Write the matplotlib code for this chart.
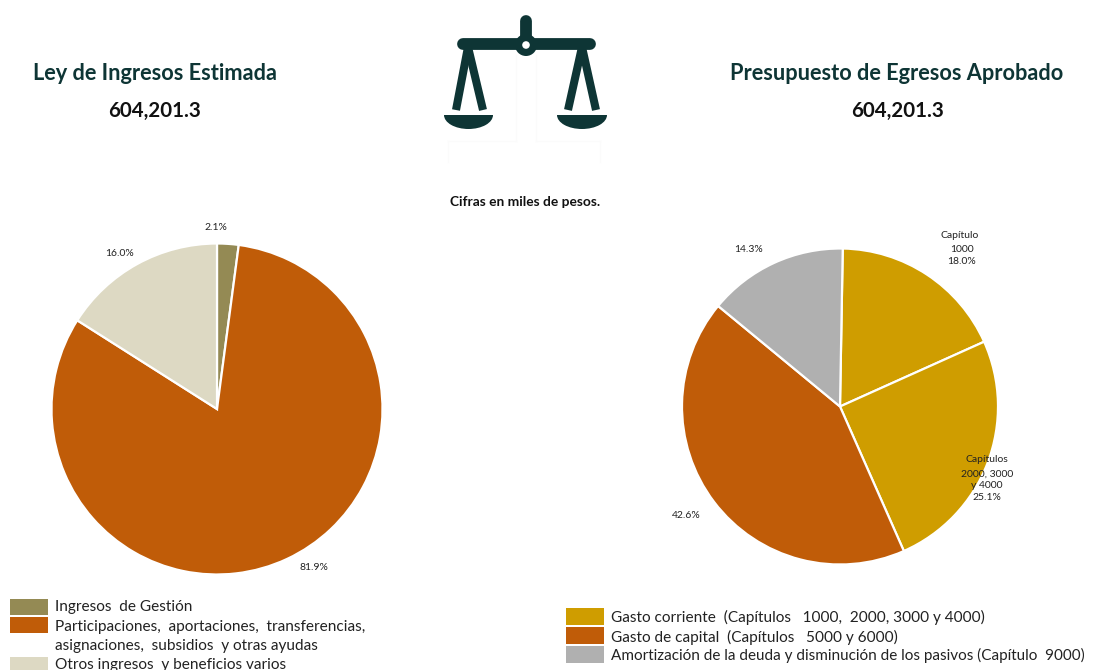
import matplotlib
matplotlib.use("Agg")
import matplotlib.pyplot as plt
from matplotlib.patches import Circle, Rectangle, Ellipse

plt.rcParams['font.family'] = ['Lato', 'DejaVu Sans']

W, H = 1102, 670

# Data
ingresos_vals = [2.1, 81.9, 16.0]
ingresos_cols = ['#948A54', '#C05C08', '#DDD9C3']
egresos_vals = [18.0, 25.1, 42.6, 14.3]
egresos_cols = ['#CF9D00', '#CF9D00', '#C05C08', '#B0B0B0']
total_ingresos = '604,201.3'
total_egresos = '604,201.3'

dark = '#0E3535'

fig = plt.figure(figsize=(W / 100, H / 100), dpi=100)


def pie_at(cx, cy, r, vals, cols, start):
    ax = fig.add_axes([(cx - r) / W, 1 - (cy + r) / H, 2 * r / W, 2 * r / H])
    ax.pie(vals, colors=cols, startangle=start, counterclock=False, radius=1,
           wedgeprops={'edgecolor': 'white', 'linewidth': 1.6})
    ax.set_xlim(-1, 1)
    ax.set_ylim(-1, 1)
    ax.patch.set_alpha(0)


pie_at(217, 409, 165.5, ingresos_vals, ingresos_cols, 90)
pie_at(840, 406.5, 158, egresos_vals, egresos_cols, 89)

# overlay for text sitting on top of the pies
top = fig.add_axes([0, 0, 1, 1], zorder=5)
top.set_xlim(0, W)
top.set_ylim(H, 0)
top.axis('off')

# Titles
top.text(155, 74, 'Ley de Ingresos Estimada', fontsize=15.7, fontweight='bold',
         color=dark, ha='center', va='center')
top.text(155, 111, total_ingresos, fontsize=14.8, fontweight='bold',
         color='#111111', ha='center', va='center')
top.text(897, 74, 'Presupuesto de Egresos Aprobado', fontsize=15.7, fontweight='bold',
         color=dark, ha='center', va='center')
top.text(898, 111, total_egresos, fontsize=14.8, fontweight='bold',
         color='#111111', ha='center', va='center')
top.text(525, 201.5, 'Cifras en miles de pesos.', fontsize=9.9, fontweight='bold',
         color='#111111', ha='center', va='center')

# Pie labels
small = {'fontsize': 7.5, 'color': '#222222', 'ha': 'center', 'va': 'center'}
top.text(216, 227, '2.1%', **small)
top.text(120, 254, '16.0%', **small)
top.text(314, 568, '81.9%', **small)
top.text(749, 249, '14.3%', **small)
top.text(686, 516, '42.6%', **small)
top.text(960, 235, 'Capítulo', **small)
top.text(962, 249, '1000', **small)
top.text(962, 261, '18.0%', **small)
top.text(987, 460, 'Capítulos', **small)
top.text(987, 474, '2000, 3000', **small)
top.text(987, 486, 'y 4000', **small)
top.text(987, 498, '25.1%', **small)

# Legends
leg = {'fontsize': 11.1, 'color': '#222222', 'ha': 'left', 'va': 'center'}
for y, c in [(599, ingresos_cols[0]), (617, ingresos_cols[1]), (657, ingresos_cols[2])]:
    top.add_patch(Rectangle((10, y), 38, 16, fc=c, ec='none'))
top.text(55, 607, 'Ingresos  de Gestión', **leg)
top.text(55, 626.5, 'Participaciones,  aportaciones,  transferencias,', **leg)
top.text(55, 646, 'asignaciones,  subsidios  y otras ayudas', **leg)
top.text(55, 665, 'Otros ingresos  y beneficios varios', **leg)

for y, c in [(608, '#CF9D00'), (627, '#C05C08'), (646, '#B0B0B0')]:
    top.add_patch(Rectangle((566, y), 38, 17, fc=c, ec='none'))
top.text(611, 617, 'Gasto corriente  (Capítulos   1000,  2000, 3000 y 4000)', **leg)
top.text(611, 637, 'Gasto de capital  (Capítulos   5000 y 6000)', **leg)
top.text(611, 655, 'Amortización de la deuda y disminución de los pasivos (Capítulo  9000)',
         fontsize=11, color='#222222', ha='left', va='center')

# Scale icon
for x0, x1, y0, y1 in [(516, 516, 55, 141), (536, 536, 55, 141), (448, 516, 141, 141),
                       (536, 600, 141, 141), (448, 448, 141, 162), (600, 600, 141, 162)]:
    top.plot([x0, x1], [y0, y1], color='#FBFBFB', lw=0.8)
top.plot([463, 590], [43.5, 43.5], color=dark, lw=8.5, solid_capstyle='round')
top.plot([526, 526], [21, 43], color=dark, lw=8.5, solid_capstyle='round')
top.add_patch(Circle((526, 45), 11, fc=dark, ec='none'))
top.add_patch(Circle((526, 45), 3.8, fc='white', ec='none', zorder=4))
for ax_x, l_x, r_x in [(468, 456, 483), (582, 568, 596)]:
    top.plot([ax_x, l_x], [47, 110], color=dark, lw=5.8, solid_capstyle='butt')
    top.plot([ax_x, r_x], [47, 110], color=dark, lw=5.8, solid_capstyle='butt')
for cx, half in [(468.5, 24.5), (582, 25)]:
    pan = Ellipse((cx, 115), 2 * half, 28, fc=dark, ec='none')
    top.add_patch(pan)
    clip = Rectangle((cx - half, 115), 2 * half, 15, transform=top.transData)
    pan.set_clip_path(clip)

fig.savefig('out.png', dpi=100)
